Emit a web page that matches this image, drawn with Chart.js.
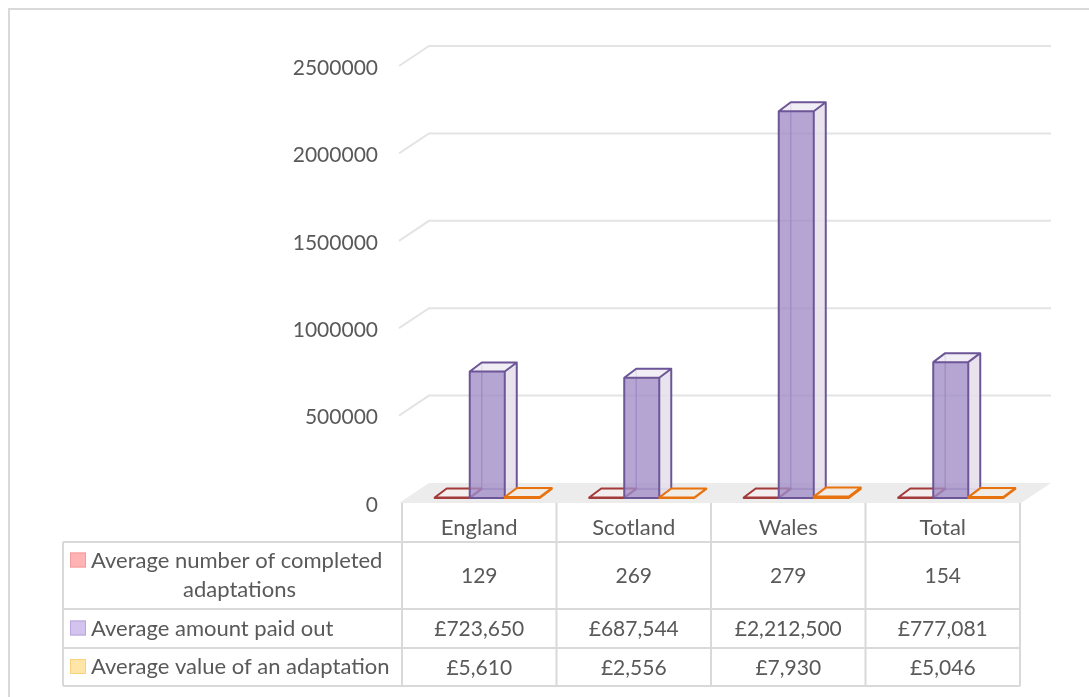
<!DOCTYPE html>
<html>
<head>
<meta charset="utf-8">
<title>Adaptations by nation</title>
<script src="https://cdn.jsdelivr.net/npm/chart.js@4.4.1/dist/chart.umd.min.js"></script>
<style>
  html, body { margin: 0; padding: 0; background: #fff; }
  #wrap { position: relative; width: 1089px; height: 697px; }
</style>
</head>
<body>
<div id="wrap"><canvas id="chart" width="1089" height="697"></canvas></div>
<script>
const categories = ["England", "Scotland", "Wales", "Total"];
const seriesNames = [
  "Average number of completed adaptations",
  "Average amount paid out",
  "Average value of an adaptation"
];
const completedAdaptations = [129, 269, 279, 154];
const amountPaidOut = [723650, 687544, 2212500, 777081];
const valuePerAdaptation = [5610, 2556, 7930, 5046];
const yTicks = [0, 500000, 1000000, 1500000, 2000000, 2500000];

const FONT = "Lato, 'Open Sans', sans-serif";
const TEXT = "#595959";
const LINE = "#d9d9d9";
const GRID = "#e4e4e4";

// depth of each box and of the floor / back wall
const BAR_DEPTH = { x: 12, y: -9 };
const WALL = { x: 30, y: -20, front: 5 };
const TABLE_SHIFT = -8;

const fmtPlain = new Intl.NumberFormat("en-GB", { maximumFractionDigits: 0 });
const fmtPound = new Intl.NumberFormat("en-GB", { style: "currency", currency: "GBP", maximumFractionDigits: 0 });

const styles = [
  { stroke: "#a33b3b", front: "rgba(243,205,205,0.45)", side: "rgba(240,228,228,0.7)", top: "rgba(245,238,238,0.9)", key: "#ffb3b3", keyLine: "#f19b9b" },
  { stroke: "#6c5697", front: "rgba(160,140,198,0.78)", side: "rgba(228,222,234,0.85)", top: "rgba(238,234,242,0.85)", key: "#d2c4ee", keyLine: "#b8a6dc" },
  { stroke: "#e8730e", front: "rgba(250,220,180,0.45)", side: "rgba(243,236,226,0.8)", top: "rgba(242,236,228,0.9)", key: "#ffe6a8", keyLine: "#fdd17c" }
];

function box(ctx, x0, x1, top, base, s) {
  const dx = BAR_DEPTH.x, dy = BAR_DEPTH.y;
  ctx.save();
  ctx.lineJoin = "round";
  // hidden back edges, visible through the translucent faces
  ctx.strokeStyle = s.stroke;
  ctx.globalAlpha = 0.6;
  ctx.lineWidth = 1.5;
  ctx.beginPath();
  ctx.moveTo(x0 + dx, top + dy); ctx.lineTo(x0 + dx, base + dy); ctx.lineTo(x1 + dx, base + dy);
  ctx.moveTo(x0, base); ctx.lineTo(x0 + dx, base + dy);
  ctx.stroke();
  ctx.globalAlpha = 1;

  // side face
  ctx.fillStyle = s.side;
  ctx.beginPath();
  ctx.moveTo(x1, top); ctx.lineTo(x1 + dx, top + dy); ctx.lineTo(x1 + dx, base + dy); ctx.lineTo(x1, base);
  ctx.closePath();
  ctx.fill();
  // top face
  ctx.fillStyle = s.top;
  ctx.beginPath();
  ctx.moveTo(x0, top); ctx.lineTo(x0 + dx, top + dy); ctx.lineTo(x1 + dx, top + dy); ctx.lineTo(x1, top);
  ctx.closePath();
  ctx.fill();
  // front face
  ctx.fillStyle = s.front;
  ctx.fillRect(x0, top, x1 - x0, base - top);

  // visible edges
  ctx.lineWidth = 2;
  ctx.beginPath();
  ctx.rect(x0, top, x1 - x0, base - top);
  ctx.moveTo(x0, top); ctx.lineTo(x0 + dx, top + dy); ctx.lineTo(x1 + dx, top + dy); ctx.lineTo(x1, top);
  ctx.moveTo(x1 + dx, top + dy); ctx.lineTo(x1 + dx, base + dy); ctx.lineTo(x1, base);
  ctx.stroke();
  ctx.restore();
}

const floorAndWall = {
  id: "floorAndWall",
  beforeDatasetsDraw(chart) {
    const { ctx, scales: { x, y } } = chart;
    const half = (x.getPixelForValue(1) - x.getPixelForValue(0)) / 2;
    const left = x.getPixelForValue(0) - half + TABLE_SHIFT - 3;
    const right = x.getPixelForValue(categories.length - 1) + half + TABLE_SHIFT + 1;
    const y0 = y.getPixelForValue(0) + WALL.front;

    ctx.save();
    // outer frame
    ctx.strokeStyle = LINE;
    ctx.lineWidth = 2;
    ctx.strokeRect(9, 9, 1200, 800);

    // floor
    ctx.fillStyle = "#ececec";
    ctx.beginPath();
    ctx.moveTo(left, y0); ctx.lineTo(right, y0);
    ctx.lineTo(right + WALL.x, y0 + WALL.y); ctx.lineTo(left + WALL.x, y0 + WALL.y);
    ctx.closePath();
    ctx.fill();

    // back wall gridlines
    ctx.strokeStyle = GRID;
    ctx.lineWidth = 2;
    yTicks.slice(1).forEach((v) => {
      const py = y.getPixelForValue(v) + WALL.front;
      ctx.beginPath();
      ctx.moveTo(left, py);
      ctx.lineTo(left + WALL.x, py + WALL.y);
      ctx.lineTo(right + WALL.x, py + WALL.y);
      ctx.stroke();
    });

    // value axis labels
    ctx.fillStyle = TEXT;
    ctx.font = `21px ${FONT}`;
    ctx.textAlign = "right";
    ctx.textBaseline = "middle";
    yTicks.forEach((v) => {
      ctx.fillText(String(v), left - 21, y.getPixelForValue(v) + WALL.front + 2);
    });
    ctx.restore();
  },
  afterDatasetsDraw(chart) {
    const { ctx } = chart;
    categories.forEach((_, i) => {
      chart.data.datasets.forEach((ds, d) => {
        const el = chart.getDatasetMeta(d).data[i];
        const x0 = el.x - el.width / 2;
        const x1 = el.x + el.width / 2;
        box(ctx, x0, x1, Math.min(el.y, el.base - 0.5), el.base, styles[d]);
      });
    });
  }
};

const dataTable = {
  id: "dataTable",
  afterDraw(chart) {
    const { ctx, scales: { x, y } } = chart;
    const half = (x.getPixelForValue(1) - x.getPixelForValue(0)) / 2;
    const colX = categories.map((_, i) => x.getPixelForValue(i) + TABLE_SHIFT);
    const edges = [colX[0] - half, ...colX.map((c) => c + half)];
    const top = y.getPixelForValue(0) + WALL.front;
    const rows = [top + 39, top + 106, top + 145, top + 183];
    const labelLeft = 63;

    ctx.save();
    ctx.strokeStyle = LINE;
    ctx.lineWidth = 2;
    ctx.beginPath();
    edges.forEach((ex) => { ctx.moveTo(ex, top); ctx.lineTo(ex, rows[3]); });
    ctx.moveTo(labelLeft, rows[0]); ctx.lineTo(labelLeft, rows[3]);
    rows.forEach((ry) => { ctx.moveTo(labelLeft, ry); ctx.lineTo(edges[edges.length - 1], ry); });
    ctx.stroke();

    ctx.fillStyle = TEXT;
    ctx.textBaseline = "middle";
    ctx.textAlign = "center";
    ctx.font = `22px ${FONT}`;
    categories.forEach((c, i) => ctx.fillText(c, colX[i], (top + rows[0]) / 2 + 5));

    const tableRows = [
      completedAdaptations.map((v) => fmtPlain.format(v)),
      amountPaidOut.map((v) => fmtPound.format(v)),
      valuePerAdaptation.map((v) => fmtPound.format(v))
    ];
    ctx.font = `21px ${FONT}`;
    tableRows.forEach((vals, r) => {
      const cy = (rows[r] + rows[r + 1]) / 2 + 1;
      vals.forEach((v, i) => ctx.fillText(v, colX[i], cy));
    });

    // series names with legend keys
    ctx.font = `22px ${FONT}`;
    const keyX = labelLeft + 7;
    const textX = keyX + 21;
    const drawKey = (s, cy) => {
      ctx.fillStyle = s.key;
      ctx.strokeStyle = s.keyLine;
      ctx.lineWidth = 1;
      ctx.fillRect(keyX, cy - 8, 16, 15);
      ctx.strokeRect(keyX + 0.5, cy - 7.5, 15, 14);
      ctx.fillStyle = TEXT;
    };
    const r0 = (rows[0] + rows[1]) / 2;
    drawKey(styles[0], r0 - 15);
    ctx.textAlign = "left";
    ctx.fillText("Average number of completed", textX, r0 - 15);
    ctx.textAlign = "center";
    ctx.fillText("adaptations", (textX + edges[0]) / 2 - 7, r0 + 14);

    ctx.textAlign = "left";
    [1, 2].forEach((s) => {
      const cy = (rows[s] + rows[s + 1]) / 2;
      drawKey(styles[s], cy);
      ctx.fillText(seriesNames[s], textX, cy);
    });
    ctx.restore();
  }
};

const seriesData = [completedAdaptations, amountPaidOut, valuePerAdaptation];

new Chart(document.getElementById("chart"), {
  type: "bar",
  data: {
    labels: categories,
    datasets: seriesNames.map((name, i) => ({
      label: name,
      data: seriesData[i],
      backgroundColor: "rgba(0,0,0,0)",
      borderWidth: 0,
      categoryPercentage: 0.68,
      barPercentage: 1
    }))
  },
  options: {
    responsive: false,
    animation: false,
    layout: { padding: { left: 410, right: 61, top: 61, bottom: 199 } },
    plugins: { legend: { display: false }, tooltip: { enabled: false } },
    scales: {
      x: { display: false },
      y: { display: false, min: 0, max: 2500000, ticks: { stepSize: 500000 } }
    }
  },
  plugins: [floorAndWall, dataTable]
});
</script>
</body>
</html>
